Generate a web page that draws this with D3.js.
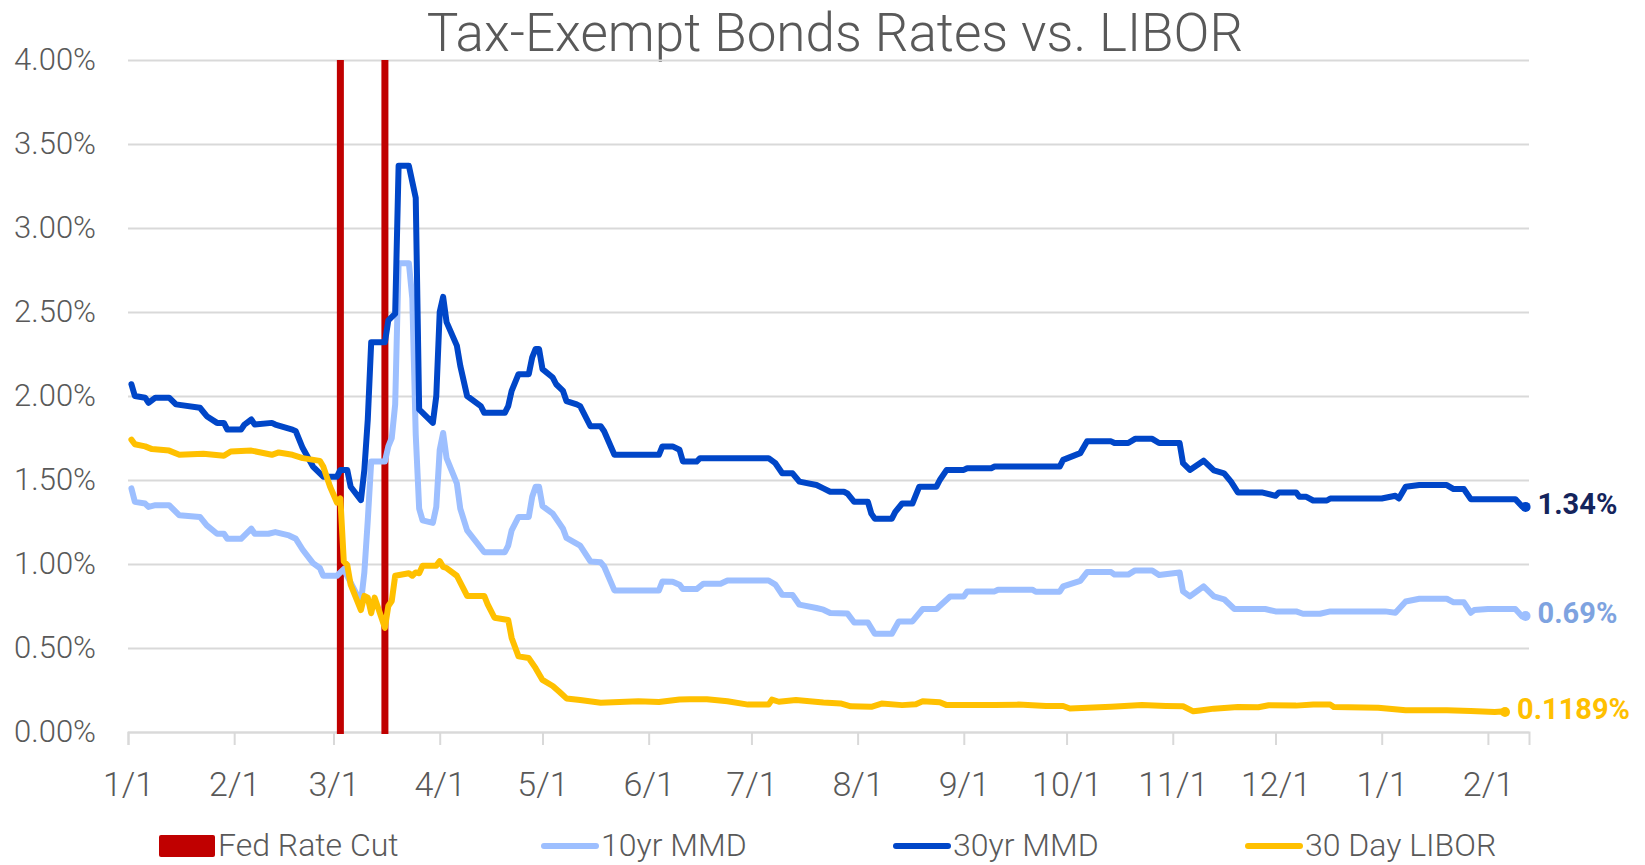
<!DOCTYPE html>
<html>
<head>
<meta charset="utf-8">
<script src="https://cdn.jsdelivr.net/npm/d3@7"></script>
<style>
  body { margin: 0; background: #ffffff; }
  text { font-family: Roboto, "Liberation Sans", sans-serif; }
</style>
</head>
<body>
<svg id="chart"></svg>
<script>
// chart data
const mmd10 = [
  ["2020-01-02",1.45],["2020-01-03",1.37],["2020-01-06",1.36],["2020-01-07",1.34],["2020-01-09",1.35],
  ["2020-01-13",1.35],["2020-01-16",1.29],["2020-01-22",1.28],["2020-01-24",1.23],["2020-01-27",1.18],
  ["2020-01-29",1.18],["2020-01-30",1.15],["2020-02-03",1.15],["2020-02-06",1.21],["2020-02-07",1.18],
  ["2020-02-11",1.18],["2020-02-13",1.19],["2020-02-17",1.17],["2020-02-19",1.15],["2020-02-21",1.085],
  ["2020-02-24",1.005],["2020-02-26",0.976],["2020-02-27",0.93],["2020-03-02",0.93],["2020-03-04",0.97],
  ["2020-03-09",0.77],["2020-03-10",0.95],["2020-03-11",1.26],["2020-03-12",1.61],["2020-03-16",1.61],
  ["2020-03-17",1.70],["2020-03-18",1.75],["2020-03-19",1.95],["2020-03-20",2.79],["2020-03-23",2.79],
  ["2020-03-24",2.58],["2020-03-25",1.77],["2020-03-26",1.33],["2020-03-27",1.26],["2020-03-30",1.245],
  ["2020-03-31",1.34],["2020-04-01",1.68],["2020-04-02",1.78],["2020-04-03",1.63],["2020-04-06",1.48],
  ["2020-04-07",1.33],["2020-04-09",1.20],["2020-04-14",1.07],["2020-04-20",1.07],["2020-04-21",1.11],
  ["2020-04-22",1.20],["2020-04-24",1.28],["2020-04-27",1.28],["2020-04-28",1.40],["2020-04-29",1.46],
  ["2020-04-30",1.46],["2020-05-01",1.345],["2020-05-04",1.30],["2020-05-06",1.24],["2020-05-07",1.21],
  ["2020-05-08",1.155],["2020-05-12",1.11],["2020-05-15",1.015],["2020-05-18",1.01],["2020-05-19",0.985],
  ["2020-05-22",0.843],["2020-06-04",0.843],["2020-06-05",0.896],["2020-06-08",0.895],["2020-06-10",0.877],
  ["2020-06-11",0.851],["2020-06-15",0.851],["2020-06-17",0.883],["2020-06-22",0.883],["2020-06-24",0.902],
  ["2020-07-06",0.902],["2020-07-08",0.877],["2020-07-10",0.817],["2020-07-13",0.815],["2020-07-15",0.758],
  ["2020-07-20",0.738],["2020-07-22",0.728],["2020-07-24",0.708],["2020-07-29",0.706],["2020-07-31",0.652],
  ["2020-08-04",0.652],["2020-08-06",0.585],["2020-08-11",0.585],["2020-08-13",0.658],["2020-08-17",0.658],
  ["2020-08-20",0.732],["2020-08-24",0.732],["2020-08-28",0.807],["2020-09-01",0.807],["2020-09-02",0.837],
  ["2020-09-10",0.837],["2020-09-11",0.847],["2020-09-21",0.847],["2020-09-22",0.835],["2020-09-29",0.835],
  ["2020-09-30",0.867],["2020-10-05",0.90],["2020-10-07",0.952],["2020-10-14",0.952],["2020-10-15",0.937],
  ["2020-10-19",0.937],["2020-10-21",0.962],["2020-10-26",0.962],["2020-10-28",0.935],["2020-11-03",0.95],
  ["2020-11-04",0.837],["2020-11-06",0.807],["2020-11-10",0.867],["2020-11-13",0.807],["2020-11-16",0.79],
  ["2020-11-19",0.732],["2020-11-28",0.732],["2020-12-01",0.718],["2020-12-07",0.718],["2020-12-09",0.704],
  ["2020-12-14",0.704],["2020-12-17",0.718],["2021-01-02",0.718],["2021-01-05",0.71],["2021-01-08",0.777],
  ["2021-01-12",0.793],["2021-01-20",0.793],["2021-01-22",0.772],["2021-01-25",0.772],["2021-01-27",0.71],
  ["2021-01-28",0.726],["2021-02-01",0.732],["2021-02-09",0.732],["2021-02-11",0.688],["2021-02-12",0.69]
];

const mmd30 = [
  ["2020-01-02",2.07],["2020-01-03",2.00],["2020-01-06",1.99],["2020-01-07",1.96],["2020-01-09",1.99],
  ["2020-01-13",1.99],["2020-01-15",1.95],["2020-01-22",1.93],["2020-01-24",1.88],["2020-01-27",1.84],
  ["2020-01-29",1.84],["2020-01-30",1.80],["2020-02-03",1.80],["2020-02-04",1.83],["2020-02-06",1.86],
  ["2020-02-07",1.83],["2020-02-12",1.84],["2020-02-13",1.83],["2020-02-18",1.80],["2020-02-19",1.79],
  ["2020-02-21",1.69],["2020-02-24",1.58],["2020-02-27",1.52],["2020-03-02",1.52],["2020-03-03",1.56],
  ["2020-03-05",1.56],["2020-03-06",1.46],["2020-03-09",1.38],["2020-03-10",1.56],["2020-03-11",1.86],
  ["2020-03-12",2.32],["2020-03-16",2.32],["2020-03-17",2.45],["2020-03-19",2.49],["2020-03-20",3.37],
  ["2020-03-23",3.37],["2020-03-25",3.18],["2020-03-26",1.92],["2020-03-30",1.84],["2020-03-31",2.00],
  ["2020-04-01",2.50],["2020-04-02",2.59],["2020-04-03",2.44],["2020-04-06",2.30],["2020-04-07",2.18],
  ["2020-04-09",2.00],["2020-04-13",1.94],["2020-04-14",1.90],["2020-04-20",1.90],["2020-04-21",1.94],
  ["2020-04-22",2.03],["2020-04-24",2.13],["2020-04-27",2.13],["2020-04-28",2.23],["2020-04-29",2.28],
  ["2020-04-30",2.28],["2020-05-01",2.16],["2020-05-04",2.11],["2020-05-05",2.07],["2020-05-07",2.03],
  ["2020-05-08",1.97],["2020-05-11",1.95],["2020-05-12",1.94],["2020-05-15",1.82],["2020-05-18",1.82],
  ["2020-05-19",1.79],["2020-05-22",1.65],["2020-06-04",1.65],["2020-06-05",1.70],["2020-06-08",1.70],
  ["2020-06-10",1.68],["2020-06-11",1.61],["2020-06-15",1.61],["2020-06-16",1.63],["2020-07-06",1.63],
  ["2020-07-08",1.60],["2020-07-10",1.54],["2020-07-13",1.54],["2020-07-15",1.49],["2020-07-20",1.47],
  ["2020-07-22",1.45],["2020-07-24",1.43],["2020-07-28",1.43],["2020-07-29",1.42],["2020-07-31",1.37],
  ["2020-08-04",1.37],["2020-08-05",1.30],["2020-08-06",1.27],["2020-08-11",1.27],["2020-08-12",1.31],
  ["2020-08-14",1.36],["2020-08-17",1.36],["2020-08-19",1.46],["2020-08-24",1.46],["2020-08-25",1.50],
  ["2020-08-27",1.56],["2020-09-01",1.56],["2020-09-02",1.57],["2020-09-09",1.57],["2020-09-10",1.58],
  ["2020-09-29",1.58],["2020-09-30",1.62],["2020-10-05",1.66],["2020-10-07",1.73],["2020-10-14",1.73],
  ["2020-10-15",1.72],["2020-10-19",1.72],["2020-10-21",1.745],["2020-10-26",1.745],["2020-10-28",1.72],
  ["2020-11-03",1.72],["2020-11-04",1.60],["2020-11-06",1.56],["2020-11-10",1.615],["2020-11-13",1.557],
  ["2020-11-16",1.54],["2020-11-18",1.49],["2020-11-20",1.426],["2020-11-27",1.426],["2020-12-01",1.406],
  ["2020-12-02",1.426],["2020-12-07",1.426],["2020-12-08",1.40],["2020-12-10",1.40],["2020-12-12",1.378],
  ["2020-12-16",1.378],["2020-12-17",1.39],["2021-01-01",1.39],["2021-01-05",1.406],["2021-01-06",1.39],
  ["2021-01-08",1.46],["2021-01-12",1.47],["2021-01-20",1.47],["2021-01-22",1.446],["2021-01-25",1.446],
  ["2021-01-27",1.386],["2021-02-09",1.386],["2021-02-11",1.342],["2021-02-12",1.34]
];

const libor30 = [
  ["2020-01-02",1.74],["2020-01-03",1.713],["2020-01-06",1.70],["2020-01-08",1.684],["2020-01-13",1.675],
  ["2020-01-16",1.65],["2020-01-23",1.656],["2020-01-29",1.644],["2020-01-31",1.67],["2020-02-06",1.675],
  ["2020-02-12",1.65],["2020-02-14",1.664],["2020-02-18",1.65],["2020-02-21",1.63],["2020-02-26",1.614],
  ["2020-02-27",1.58],["2020-02-29",1.46],["2020-03-02",1.366],["2020-03-03",1.39],["2020-03-04",1.015],
  ["2020-03-05",0.995],["2020-03-06",0.877],["2020-03-09",0.726],["2020-03-10",0.81],["2020-03-11",0.80],
  ["2020-03-12",0.707],["2020-03-13",0.80],["2020-03-16",0.62],["2020-03-17",0.75],["2020-03-18",0.78],
  ["2020-03-19",0.93],["2020-03-23",0.945],["2020-03-24",0.93],["2020-03-25",0.95],["2020-03-26",0.945],
  ["2020-03-27",0.99],["2020-03-31",0.99],["2020-04-01",1.017],["2020-04-02",0.983],["2020-04-03",0.976],
  ["2020-04-06",0.93],["2020-04-08",0.85],["2020-04-09",0.81],["2020-04-14",0.81],["2020-04-15",0.76],
  ["2020-04-17",0.68],["2020-04-21",0.667],["2020-04-22",0.56],["2020-04-24",0.45],["2020-04-27",0.44],
  ["2020-04-29",0.38],["2020-05-01",0.31],["2020-05-04",0.274],["2020-05-06",0.238],["2020-05-08",0.20],
  ["2020-05-12",0.19],["2020-05-18",0.174],["2020-05-29",0.183],["2020-06-04",0.178],["2020-06-10",0.193],
  ["2020-06-13",0.195],["2020-06-18",0.195],["2020-06-24",0.183],["2020-06-30",0.163],["2020-07-06",0.163],
  ["2020-07-07",0.193],["2020-07-09",0.18],["2020-07-14",0.19],["2020-07-22",0.175],["2020-07-27",0.17],
  ["2020-07-30",0.153],["2020-08-05",0.15],["2020-08-08",0.169],["2020-08-14",0.16],["2020-08-18",0.165],
  ["2020-08-20",0.183],["2020-08-25",0.177],["2020-08-27",0.16],["2020-09-10",0.16],["2020-09-17",0.163],
  ["2020-09-25",0.155],["2020-09-30",0.155],["2020-10-02",0.14],["2020-10-14",0.15],["2020-10-23",0.16],
  ["2020-10-30",0.155],["2020-11-04",0.153],["2020-11-07",0.123],["2020-11-09",0.128],["2020-11-13",0.139],
  ["2020-11-20",0.149],["2020-11-26",0.147],["2020-11-29",0.159],["2020-12-07",0.157],["2020-12-12",0.163],
  ["2020-12-17",0.163],["2020-12-18",0.149],["2020-12-31",0.145],["2021-01-08",0.129],["2021-01-20",0.13],
  ["2021-01-27",0.125],["2021-02-03",0.119],["2021-02-05",0.122],["2021-02-06",0.1189]
];

const fedCuts = ["2020-03-03", "2020-03-16"];
const yTicks = [0, 0.5, 1, 1.5, 2, 2.5, 3, 3.5, 4];
const endLabels = ["1.34%", "0.69%", "0.1189%"];
const legendLabels = ["Fed Rate Cut", "10yr MMD", "30yr MMD", "30 Day LIBOR"];

// Set up the SVG container
const svgWidth = 1645;
const svgHeight = 865;
const svg = d3.select("#chart")
  .attr("width", svgWidth)
  .attr("height", svgHeight);

const parse = d3.timeParse("%Y-%m-%d");
const textGray = "#595959";

const x = d3.scaleTime()
  .domain([parse("2020-01-01"), parse("2021-02-13")])
  .range([128, 1529]);

const y = d3.scaleLinear()
  .domain([0, 4])
  .range([732, 60]);

// title
svg.append("text")
  .attr("x", 835)
  .attr("y", 51)
  .attr("text-anchor", "middle")
  .attr("font-size", 53)
  .attr("font-weight", 300)
  .attr("fill", textGray)
  .text("Tax-Exempt Bonds Rates vs. LIBOR");

// gridlines + y labels
const yAxis = svg.append("g")
  .attr("transform", "translate(128,0)")
  .call(d3.axisLeft(y)
    .tickValues(yTicks)
    .tickSize(-(1529 - 128))
    .tickPadding(32)
    .tickFormat(d => d3.format(".2f")(d) + "%"));
yAxis.select(".domain").remove();
yAxis.selectAll(".tick line").attr("stroke", "#d9d9d9").attr("stroke-width", 2);
yAxis.selectAll(".tick text")
  .attr("font-size", 31)
  .attr("font-weight", 300)
  .attr("fill", textGray)
  .attr("font-family", "Roboto, 'Liberation Sans', sans-serif");

// x axis with month ticks
const xAxis = svg.append("g")
  .attr("transform", `translate(0,${y(0)})`)
  .call(d3.axisBottom(x)
    .ticks(d3.timeMonth.every(1))
    .tickSize(13)
    .tickPadding(27)
    .tickFormat(d3.timeFormat("%-m/%-d")));
xAxis.select(".domain").attr("stroke", "#d9d9d9").attr("stroke-width", 2);
xAxis.selectAll(".tick line").attr("stroke", "#d9d9d9").attr("stroke-width", 2);
xAxis.selectAll(".tick text")
  .attr("font-size", 34)
  .attr("font-weight", 300)
  .attr("fill", textGray)
  .attr("font-family", "Roboto, 'Liberation Sans', sans-serif");

// fed rate cut bars
svg.selectAll(".cut")
  .data(fedCuts)
  .enter()
  .append("rect")
  .attr("class", "cut")
  .attr("x", d => x(parse(d)) - 3.5)
  .attr("y", y(4))
  .attr("width", 7)
  .attr("height", y(0) - y(4) + 2)
  .attr("fill", "#c00000");

// lines
const series = [
  { data: mmd10, color: "#9dbfff", label: endLabels[1], labelColor: "#7ea3e0" },
  { data: mmd30, color: "#0046c8", label: endLabels[0], labelColor: "#14245c" },
  { data: libor30, color: "#ffc000", label: endLabels[2], labelColor: "#ffc000" }
];

const line = d3.line()
  .x(d => x(parse(d[0])))
  .y(d => y(d[1]));

series.forEach(s => {
  svg.append("path")
    .datum(s.data)
    .attr("fill", "none")
    .attr("stroke", s.color)
    .attr("stroke-width", 6)
    .attr("stroke-linejoin", "round")
    .attr("stroke-linecap", "round")
    .attr("d", line);

  const last = s.data[s.data.length - 1];
  svg.append("circle")
    .attr("cx", x(parse(last[0])))
    .attr("cy", y(last[1]))
    .attr("r", 5)
    .attr("fill", s.color);

  svg.append("text")
    .attr("x", x(parse(last[0])) + 12)
    .attr("y", y(last[1]) - 3)
    .attr("dominant-baseline", "central")
    .attr("font-family", "Lato, 'Open Sans', sans-serif")
    .attr("font-weight", 700)
    .attr("font-size", 29)
    .attr("fill", s.labelColor)
    .text(s.label);
});

// legend
const legendX = [159, 542, 894, 1246];
const legendColors = ["#c00000", "#9dbfff", "#0046c8", "#ffc000"];

const legend = svg.selectAll(".legend")
  .data(legendLabels)
  .enter()
  .append("g")
  .attr("class", "legend")
  .attr("transform", (d, i) => `translate(${legendX[i]}, 846)`);

legend.each(function (d, i) {
  const g = d3.select(this);
  if (i === 0) {
    g.append("rect")
      .attr("x", 0).attr("y", -11)
      .attr("width", 56).attr("height", 22)
      .attr("rx", 2)
      .attr("fill", legendColors[i]);
  } else {
    g.append("line")
      .attr("x1", 2).attr("x2", 54)
      .attr("y1", 0).attr("y2", 0)
      .attr("stroke", legendColors[i])
      .attr("stroke-width", 6)
      .attr("stroke-linecap", "round");
  }
});

legend.append("text")
  .attr("x", 59)
  .attr("y", 10)
  .attr("font-size", 32)
  .attr("font-weight", 300)
  .attr("fill", textGray)
  .text(d => d);
</script>
</body>
</html>
